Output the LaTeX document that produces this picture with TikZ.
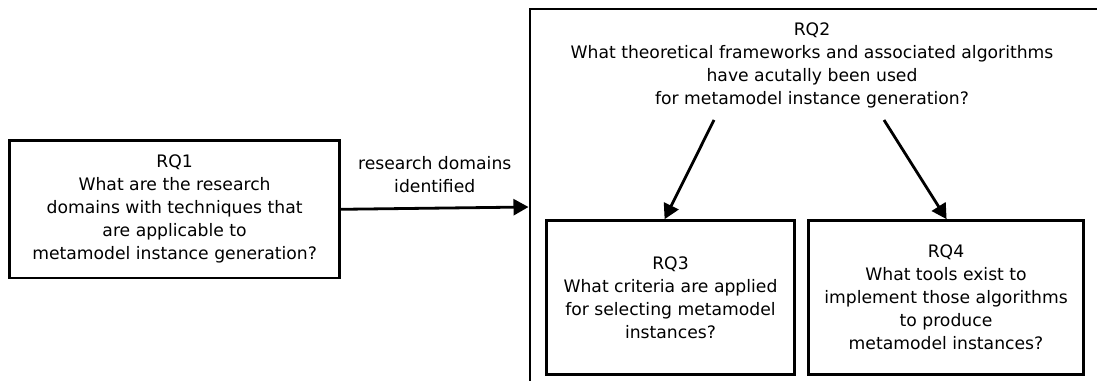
\documentclass[tikz,border=0pt]{standalone}
\usepackage{fontspec}
\setmainfont{DejaVu Sans}
\usetikzlibrary{arrows.meta,calc}
\begin{document}
\begin{tikzpicture}[x=1pt,y=-1pt,
  qfont/.style={font=\fontsize{17.2}{23}\selectfont},
  rqbox/.style={draw, line width=2.8pt, align=center, inner sep=0pt, qfont},
  rqtext/.style={align=center, inner sep=0pt, qfont},
  flow/.style={line width=2.8pt, -{Triangle[length=15pt,width=16pt]}}]
\useasboundingbox (0,0) rectangle (1097,380);
\clip (0,0) rectangle (1097,380);

% left question
\node[rqbox, minimum width=330pt, minimum height=137.5pt] (rq1) at (174.6,209.3)
  {RQ1\\What are the research\\domains with techniques that\\are applicable to\\metamodel instance generation?};

% container of RQ2 (runs off the right and bottom edges)
\node[draw, line width=2.8pt, inner sep=0pt, anchor=north west,
      minimum width=700pt, minimum height=500pt] (rq2) at (528.5,7.5) {};
\node[rqtext] (rq2text) at (812,65)
  {RQ2\\What theoretical frameworks and associated algorithms\\have acutally been used\\for metamodel instance generation?};

% sub-questions
\node[rqbox, minimum width=248pt, minimum height=154pt] (rq3) at (670.5,297.6)
  {RQ3\\What criteria are applied\\for selecting metamodel\\instances?};
\node[rqbox, minimum width=275pt, minimum height=154pt] (rq4) at (946,297.6)
  {RQ4\\What tools exist to\\implement those algorithms\\to produce\\metamodel instances?};

% connectors
\coordinate (in2) at ($(rq2.north west)+(0,199.5)$);
\draw[flow] (rq1.east) -- node[rqtext, above=14pt] (lbl) {research domains\\identified} (in2);

\coordinate (out3) at (714,120);
\coordinate (out4) at (884,120);
\draw[flow] (out3) -- ($(rq3.north west)+(119.5,0)$);
\draw[flow] (out4) -- ($(rq4.north west)+(139.5,0)$);
\end{tikzpicture}
\end{document}
